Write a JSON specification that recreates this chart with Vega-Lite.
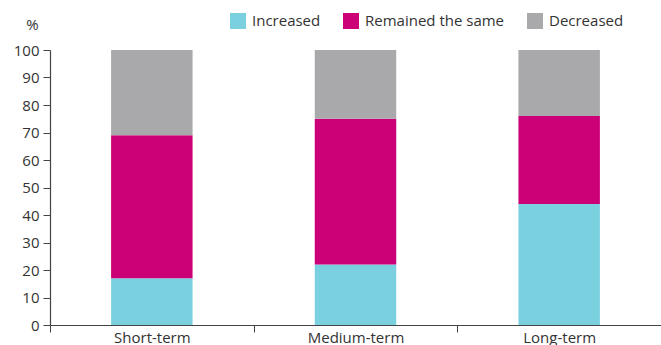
{
  "$schema": "https://vega.github.io/schema/vega-lite/v6.json",
  "width": 611,
  "height": 275,
  "autosize": {"type": "none"},
  "padding": {"left": 50, "top": 50, "right": 0, "bottom": 20},
  "background": "white",
  "config": {
    "view": {"stroke": null},
    "font": "Open Sans",
    "axis": {"labelFont": "Open Sans", "titleFont": "Open Sans", "labelColor": "#333333", "titleColor": "#333333", "domainColor": "#444444", "tickColor": "#444444", "grid": false},
    "legend": {"labelFont": "Open Sans"}
  },
  "data": {
    "values": [
      {"horizon": "Short-term", "change": "Increased", "rank": 1, "pct": 17},
      {"horizon": "Short-term", "change": "Remained the same", "rank": 2, "pct": 52},
      {"horizon": "Short-term", "change": "Decreased", "rank": 3, "pct": 31},
      {"horizon": "Medium-term", "change": "Increased", "rank": 1, "pct": 22},
      {"horizon": "Medium-term", "change": "Remained the same", "rank": 2, "pct": 53},
      {"horizon": "Medium-term", "change": "Decreased", "rank": 3, "pct": 25},
      {"horizon": "Long-term", "change": "Increased", "rank": 1, "pct": 44},
      {"horizon": "Long-term", "change": "Remained the same", "rank": 2, "pct": 32},
      {"horizon": "Long-term", "change": "Decreased", "rank": 3, "pct": 24}
    ]
  },
  "mark": {"type": "bar", "width": {"band": 0.4}},
  "encoding": {
    "x": {
      "field": "horizon",
      "type": "nominal",
      "sort": ["Short-term", "Medium-term", "Long-term"],
      "scale": {"paddingInner": 0, "paddingOuter": 0},
      "axis": {
        "title": null,
        "labelAngle": 0,
        "labelFontSize": 15,
        "labelPadding": -2,
        "tickBand": "extent",
        "tickSize": 7,
        "domainWidth": 1.2
      }
    },
    "y": {
      "field": "pct",
      "type": "quantitative",
      "stack": "zero",
      "scale": {"domain": [0, 100]},
      "axis": {
        "values": [0, 10, 20, 30, 40, 50, 60, 70, 80, 90, 100],
        "title": "%",
        "titleAngle": 0,
        "titleFontSize": 15,
        "titleFontWeight": "normal",
        "titleX": -18,
        "titleY": -21,
        "titleAlign": "center",
        "titleBaseline": "alphabetic",
        "labelFontSize": 15,
        "labelPadding": 4,
        "tickSize": 7,
        "domainWidth": 1.2
      }
    },
    "color": {
      "field": "change",
      "type": "nominal",
      "scale": {
        "domain": ["Increased", "Remained the same", "Decreased"],
        "range": ["#7BD0E0", "#CC0077", "#A9A9AC"]
      },
      "legend": {
        "title": null,
        "orient": "none",
        "direction": "horizontal",
        "legendX": 180,
        "legendY": -37,
        "symbolType": "square",
        "symbolSize": 256,
        "symbolStrokeWidth": 0,
        "labelFontSize": 15,
        "labelColor": "#333333",
        "columnPadding": 22,
        "labelOffset": 6
      }
    },
    "order": {"field": "rank", "type": "quantitative"}
  }
}
